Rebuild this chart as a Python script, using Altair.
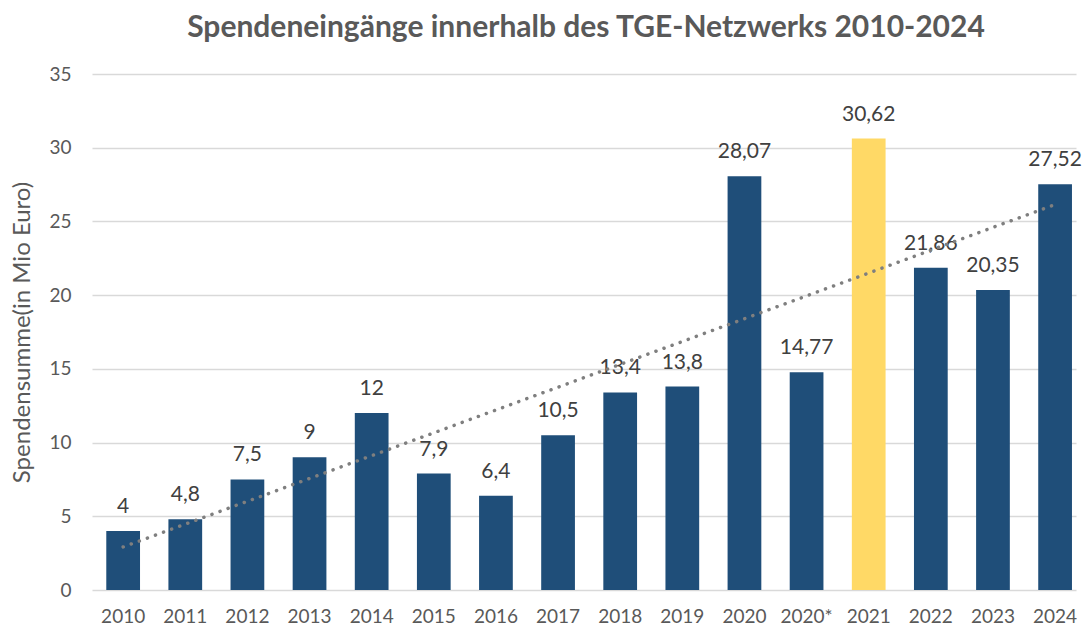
import altair as alt
import pandas as pd

years = ["2010", "2011", "2012", "2013", "2014", "2015", "2016", "2017",
         "2018", "2019", "2020", "2020*", "2021", "2022", "2023", "2024"]
values = [4, 4.8, 7.5, 9, 12, 7.9, 6.4, 10.5, 13.4, 13.8, 28.07, 14.77,
          30.62, 21.86, 20.35, 27.52]
highlight = ["no"] * 12 + ["yes"] + ["no"] * 3

def fmt(v):
    s = ("%g" % v)
    return s.replace(".", ",")

df = pd.DataFrame({
    "year": years,
    "value": values,
    "label": [fmt(v) for v in values],
    "hl": highlight,
    "idx": list(range(1, len(years) + 1)),
})

FONT = "Lato"
W, H = 984, 516
N = len(years)
STEP = 62.13
P_IN = 0.457
P_OUT = (W / STEP - N + P_IN) / 2
ALIGN = 0.78

# band geometry -> matching quantitative domain for the trend line
step = W / (N - P_IN + 2 * P_OUT)
bw = step * (1 - P_IN)
start = (W - (N - P_IN) * step) * ALIGN
first_c = start + bw / 2
d0 = 1 - first_c / step
d1 = d0 + W / step

base = alt.Chart(df)

xband = alt.X("year:N", sort=years,
              scale=alt.Scale(paddingInner=P_IN, paddingOuter=P_OUT, align=ALIGN),
              axis=alt.Axis(title=None, labelAngle=0, labelFontSize=19,
                            labelColor="#595959", labelFont=FONT,
                            labelPadding=17, ticks=False, domain=False))
yq = alt.Y("value:Q", scale=alt.Scale(domain=[0, 35], nice=False),
           axis=alt.Axis(title="Spendensumme(in Mio Euro)", values=[0, 5, 10, 15, 20, 25, 30, 35],
                         titleFontSize=24, titleFontWeight="normal",
                         titleColor="#595959", titleFont=FONT, titlePadding=14,
                         labelFontSize=19, labelColor="#595959", labelFont=FONT,
                         labelPadding=21, ticks=False, domain=False,
                         gridColor="#D9D9D9", gridWidth=1.5))

bars = base.mark_bar().encode(
    x=xband,
    y=yq,
    color=alt.Color("hl:N", scale=alt.Scale(domain=["no", "yes"],
                                            range=["#1F4E79", "#FFD966"]),
                    legend=None),
)

labels = base.mark_text(baseline="bottom", dy=-14, fontSize=21,
                        color="#404040", font=FONT).encode(
    x=alt.X("year:N", sort=years),
    y="value:Q",
    text="label:N",
)

barlayer = alt.layer(bars, labels)

trend = base.transform_regression("idx", "value", extent=[1, 16]).mark_line(
    color="#7F7F7F", strokeWidth=3.5, strokeDash=[0.1, 8.5], strokeCap="round"
).encode(
    x=alt.X("idx:Q", scale=alt.Scale(domain=[d0, d1], nice=False, zero=False),
            axis=None),
    y="value:Q",
)

chart = alt.layer(barlayer, trend).resolve_scale(x="independent").properties(
    width=W, height=H,
    title=alt.Title("Spendeneingänge innerhalb des TGE-Netzwerks 2010-2024",
                    fontSize=30, fontWeight="bold", color="#595959", font=FONT,
                    anchor="middle", offset=22, dx=2),
    autosize=alt.AutoSizeParams(type="none"),
    padding={"left": 84, "top": 66, "right": 7, "bottom": 36},
).configure_view(stroke=None)

chart.save("out.html", embed_options={"renderer": "svg", "actions": False})
